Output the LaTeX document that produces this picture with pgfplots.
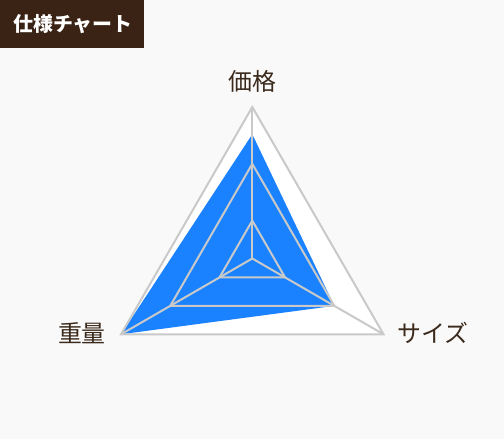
\documentclass[border=0pt]{standalone}
\usepackage{fontspec}
\usepackage{pgfplots}
\pgfplotsset{compat=1.18}
\setmainfont{Noto Sans CJK JP}

\definecolor{pagebg}{HTML}{F9F9F9}
\definecolor{titlebg}{HTML}{3A2314}
\definecolor{labeltext}{HTML}{3B2A1C}
\definecolor{gridgray}{HTML}{C9C9C9}
\definecolor{fillblue}{HTML}{1A82FF}

\begin{document}
\begin{tikzpicture}[
  spoke label/.style={text=labeltext, font=\fontsize{24}{28}\selectfont},
]
% one unit = 151.5bp, origin at the chart centre (252.3, 180.5 in bp from bottom left)
\begin{axis}[
  x=151.5bp, y=151.5bp,
  xmin=-1.1, xmax=1.1, ymin=-1.1, ymax=1.1,
  hide axis, clip=false,
  grid line/.style={draw=gridgray, line width=2bp, line join=miter},
]
% page background and title box (504 x 439 bp)
\fill[pagebg] (axis cs:-1.6653,-1.1914) rectangle (axis cs:1.6614,1.7063);
\fill[titlebg] (axis cs:-1.6653,1.3894) rectangle (axis cs:-0.7149,1.7063);
\node[text=white, font=\bfseries\fontsize{20}{24}\selectfont] at (axis cs:-1.1835,1.5479) {仕様チャート};

% white chart area
\addplot[fill=white, draw=none, data cs=polar] coordinates {(90,1) (210,1) (330,1)} -- cycle;
% data: 価格, 重量, サイズ
\addplot[fill=fillblue, draw=none, data cs=polar] coordinates {(90,0.82) (210,1) (330,0.625)} -- cycle;
% grid rings
\addplot[grid line, data cs=polar] coordinates {(90,1) (210,1) (330,1)} -- cycle;
\addplot[grid line, data cs=polar] coordinates {(90,0.625) (210,0.625) (330,0.625)} -- cycle;
\addplot[grid line, data cs=polar] coordinates {(90,0.25) (210,0.25) (330,0.25)} -- cycle;
% spokes
\addplot[grid line, data cs=polar] coordinates {(90,0) (90,1)};
\addplot[grid line, data cs=polar] coordinates {(210,0) (210,1)};
\addplot[grid line, data cs=polar] coordinates {(330,0) (330,1)};

% axis labels
\node[spoke label] at (axis cs:0,1.1716) {価格};
\node[spoke label] at (axis cs:-1.1241,-0.4917) {重量};
\node[spoke label] at (axis cs:1.1927,-0.4917) {サイズ};
\end{axis}
\end{tikzpicture}
\end{document}
